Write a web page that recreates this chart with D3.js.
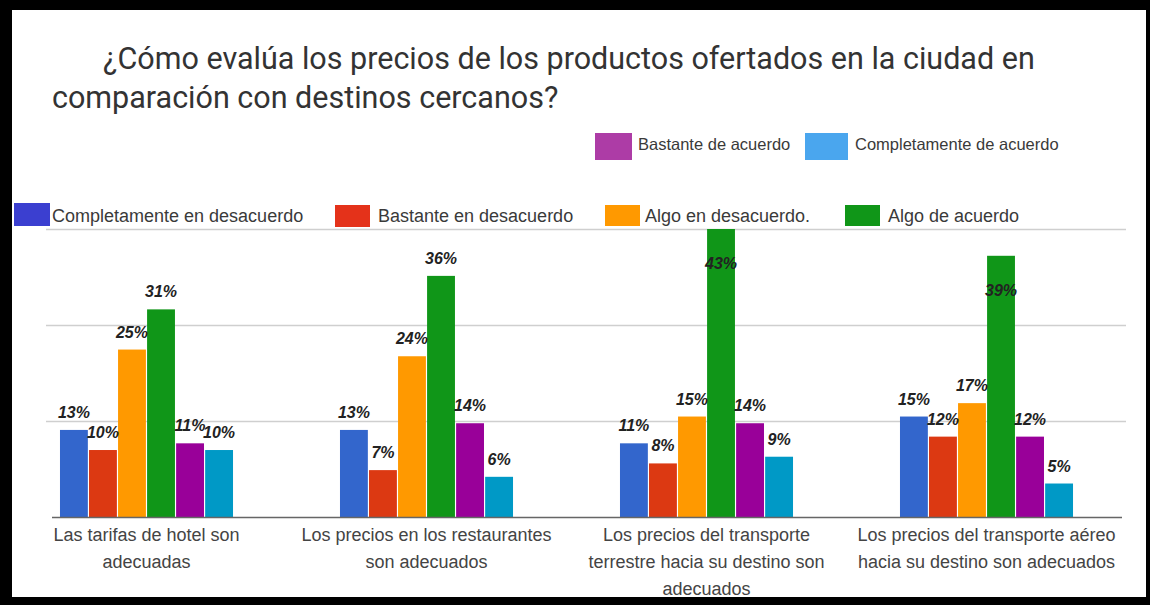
<!DOCTYPE html>
<html>
<head>
<meta charset="utf-8">
<script src="https://cdn.jsdelivr.net/npm/d3@7"></script>
<style>
  html, body { margin: 0; padding: 0; background: #fff; }
  svg { display: block; }
</style>
</head>
<body>
<svg id="chart" width="1150" height="605"></svg>
<script>
// ---- data ----
const titleLines = [
  "¿Cómo evalúa los precios de los productos ofertados en la ciudad en",
  "comparación con destinos cercanos?"
];

const categories = [
  "Las tarifas de hotel son\nadecuadas",
  "Los precios en los restaurantes\nson adecuados",
  "Los precios del transporte\nterrestre hacia su destino son\nadecuados",
  "Los precios del transporte aéreo\nhacia su destino son adecuados"
];

const seriesNames = [
  "Completamente en desacuerdo",
  "Bastante en desacuerdo",
  "Algo en desacuerdo.",
  "Algo de acuerdo",
  "Bastante de acuerdo",
  "Completamente de acuerdo"
];

// percentage per category, one array per series
const completamenteEnDesacuerdo = [13, 13, 11, 15];
const bastanteEnDesacuerdo      = [10, 7, 8, 12];
const algoEnDesacuerdo          = [25, 24, 15, 17];
const algoDeAcuerdo             = [31, 36, 43, 39];
const bastanteDeAcuerdo         = [11, 14, 14, 12];
const completamenteDeAcuerdo    = [10, 6, 9, 5];

const seriesValues = [
  completamenteEnDesacuerdo,
  bastanteEnDesacuerdo,
  algoEnDesacuerdo,
  algoDeAcuerdo,
  bastanteDeAcuerdo,
  completamenteDeAcuerdo
];

// ---- styles ----
const barColors    = ["#3366cc", "#dc3912", "#ff9900", "#109618", "#990099", "#0099c6"];
const legendColors = ["#3b3fd0", "#e4321a", "#ff9900", "#109618", "#ad3ca6", "#4aa6ee"];

// legend placement: series index, swatch box, text start
const legendLayout = [
  { s: 4, x: 595, y: 133, w: 37, h: 27, tx: 638, ty: 144, size: 16.5 },
  { s: 5, x: 805, y: 133, w: 43, h: 27, tx: 855, ty: 144, size: 16.5 },
  { s: 0, x: 14,  y: 203, w: 36, h: 23, tx: 52,  ty: 216, size: 18 },
  { s: 1, x: 335, y: 205, w: 35, h: 22, tx: 378, ty: 216, size: 18 },
  { s: 2, x: 605, y: 205, w: 35, h: 21, tx: 645, ty: 216, size: 18 },
  { s: 3, x: 845, y: 205, w: 35, h: 21, tx: 888, ty: 216, size: 18 }
];

const W = 1150, H = 605;
const svg = d3.select("#chart");

// black frame around a white card
svg.append("rect").attr("width", W).attr("height", H).attr("fill", "#000");
svg.append("rect").attr("x", 12).attr("y", 10).attr("width", 1134).attr("height", 587).attr("fill", "#fff");

// ---- scales ----
const yMax = d3.max(seriesValues.flat());
const y = d3.scaleLinear().domain([0, yMax]).range([517, 229]);

const x0 = d3.scaleBand()
  .domain(categories)
  .range([6.5, 1126.5])
  .paddingInner(0.382)
  .paddingOuter(0.191);

const x1 = d3.scaleBand()
  .domain(d3.range(seriesNames.length))
  .range([0, x0.bandwidth()])
  .paddingInner(0.04);

// ---- gridlines ----
const gridCount = 3;
const gridVals = d3.range(1, gridCount + 1).map(i => yMax * i / gridCount);
svg.append("g").selectAll("line").data(gridVals).join("line")
  .attr("x1", 46).attr("x2", 1126)
  .attr("y1", d => Math.round(y(d)) + 0.5).attr("y2", d => Math.round(y(d)) + 0.5)
  .attr("stroke", "#cfcfcf").attr("stroke-width", 1.5);

// ---- title ----
svg.append("g").selectAll("text").data(titleLines).join("text")
  .attr("x", (d, i) => i === 0 ? 103 : 52)
  .attr("y", (d, i) => 69 + i * 39)
  .attr("font-family", "Roboto, 'Noto Sans', sans-serif")
  .attr("font-size", 30.5)
  .attr("fill", "#333")
  .text(d => d);

// ---- legend ----
const leg = svg.append("g").selectAll("g").data(legendLayout).join("g");
leg.append("rect")
  .attr("x", d => d.x).attr("y", d => d.y)
  .attr("width", d => d.w).attr("height", d => d.h)
  .attr("fill", d => legendColors[d.s]);
leg.append("text")
  .attr("x", d => d.tx).attr("y", d => d.ty).attr("dy", "0.35em")
  .attr("font-family", "'Liberation Sans', Arial, sans-serif")
  .attr("font-size", d => d.size)
  .attr("fill", "#3a3a3a")
  .text(d => seriesNames[d.s]);

// ---- bars ----
const rows = categories.map((c, ci) => ({
  cat: c,
  items: seriesValues.map((vals, si) => ({ si, v: vals[ci] }))
}));

const groups = svg.append("g").selectAll("g").data(rows).join("g")
  .attr("transform", d => `translate(${x0(d.cat)},0)`);

groups.selectAll("rect").data(d => d.items).join("rect")
  .attr("x", d => x1(d.si))
  .attr("y", d => y(d.v))
  .attr("width", x1.bandwidth())
  .attr("height", d => y(0) - y(d.v))
  .attr("fill", d => barColors[d.si]);

// value labels: above the bar, or inside it when the bar reaches the legend band
groups.selectAll("text").data(d => d.items).join("text")
  .attr("x", d => x1(d.si) + x1.bandwidth() / 2)
  .attr("y", d => (y(d.v) - 26 < 235) ? y(d.v) + 40 : y(d.v) - 12)
  .attr("text-anchor", "middle")
  .attr("font-family", "'Liberation Sans', Arial, sans-serif")
  .attr("font-weight", "bold")
  .attr("font-style", "italic")
  .attr("font-size", 16)
  .attr("fill", "#222")
  .text(d => d.v + "%");

// ---- baseline ----
svg.append("line")
  .attr("x1", 52).attr("x2", 1122)
  .attr("y1", y(0) + 0.5).attr("y2", y(0) + 0.5)
  .attr("stroke", "#666").attr("stroke-width", 1.5);

// ---- category labels ----
const catLabels = svg.append("g").selectAll("text").data(categories).join("text")
  .attr("text-anchor", "middle")
  .attr("font-family", "'Liberation Sans', Arial, sans-serif")
  .attr("font-size", 18)
  .attr("fill", "#444")
  .attr("transform", d => `translate(${x0(d) + x0.bandwidth() / 2},541)`);
catLabels.selectAll("tspan").data(d => d.split("\n")).join("tspan")
  .attr("x", 0)
  .attr("dy", (d, i) => i === 0 ? 0 : 27)
  .text(d => d);
</script>
</body>
</html>
